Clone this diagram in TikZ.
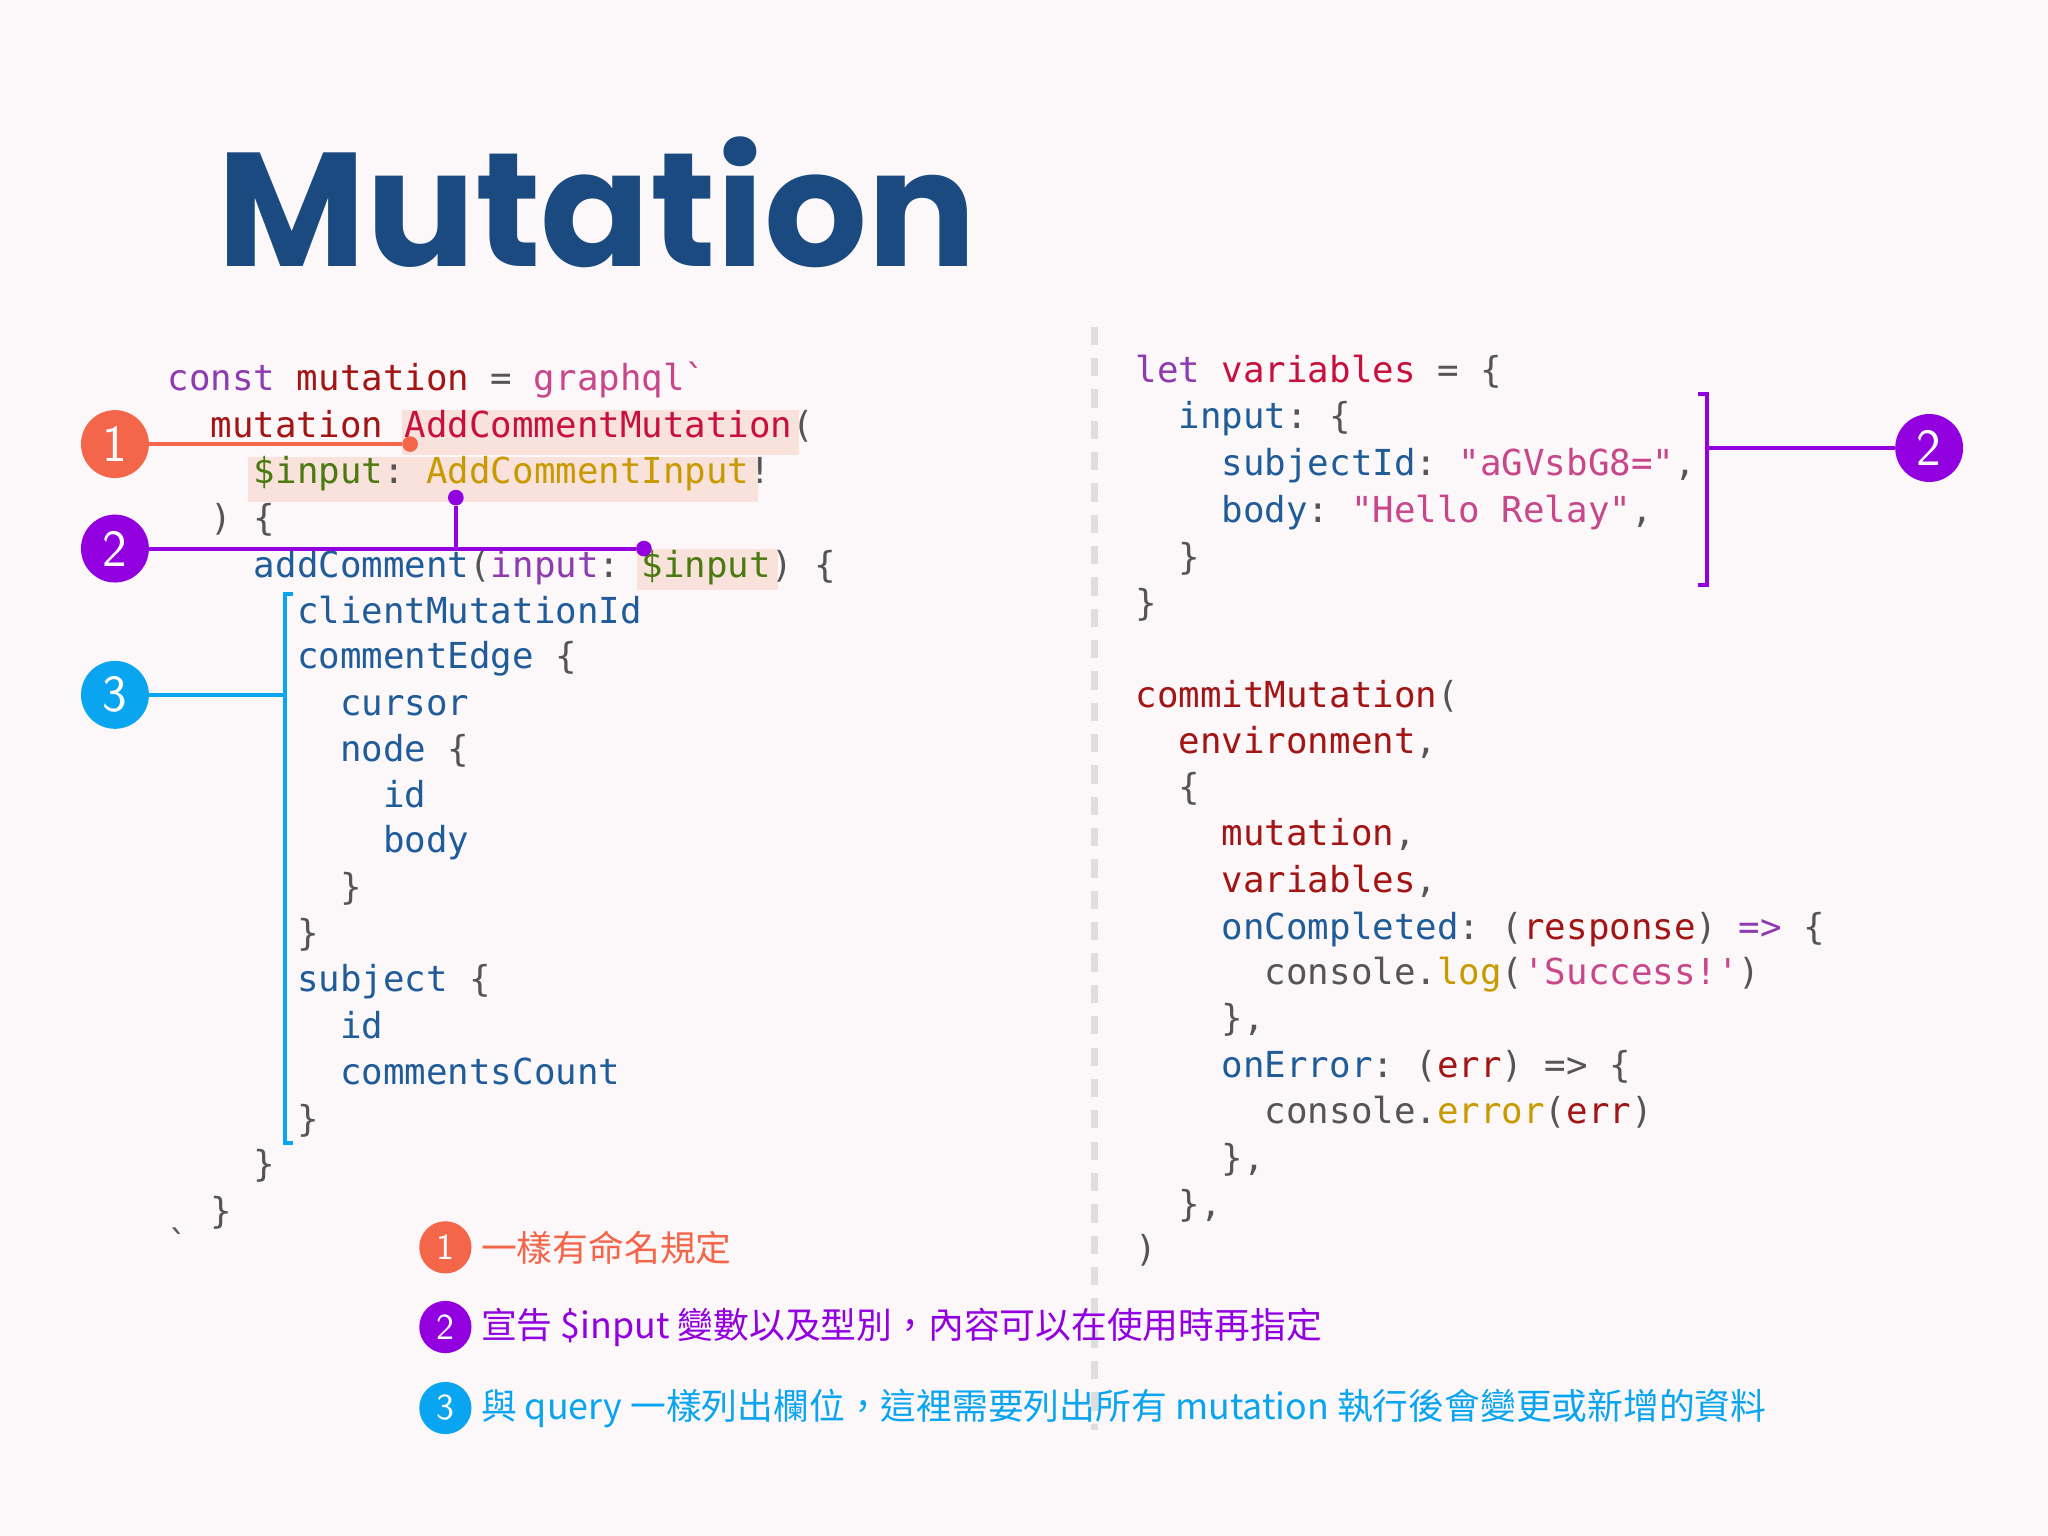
\documentclass[tikz,border=0pt]{standalone}
\usepackage{fontspec}
\setmonofont{DejaVu Sans Mono}
\newfontfamily\titlefont{Poppins}
\newfontfamily\cjk{Noto Sans CJK TC}
\definecolor{bg}{HTML}{FCF7F9}
\definecolor{kw}{HTML}{8E3AB0}
\definecolor{dr}{HTML}{A31515}
\definecolor{cr}{HTML}{C8103F}
\definecolor{gy}{HTML}{555555}
\definecolor{pk}{HTML}{C8478A}
\definecolor{gr}{HTML}{4A7A10}
\definecolor{gd}{HTML}{C99A00}
\definecolor{bl}{HTML}{1F5C99}
\definecolor{hl}{HTML}{F9E1DC}
\definecolor{c1}{HTML}{F4664A}
\definecolor{c2}{HTML}{9300E0}
\definecolor{c3}{HTML}{0AA5F0}
\definecolor{tb}{HTML}{1A4A80}
\newcommand\K[2]{\textcolor{#1}{#2}}
\newcommand\bq{\symbol{96}}
\newcommand\sq{\symbol{39}}
\newcommand\dq{\symbol{34}}
\newcommand\cl[3]{\node[code] (L#2) at ({#1*16.5+128},#2) {#3};}
\newcommand\rl[3]{\node[code] (R#2) at ({#1*16.5+869},#2) {#3};}
\begin{document}
\begin{tikzpicture}[x=0.5pt,y=-0.5pt,
  code/.style={anchor=west,inner sep=0,text height=10pt,text depth=3pt,font=\ttfamily\fontsize{13.7}{16}\selectfont,text=gy},
  big/.style={circle,fill=#1,minimum size=26pt,inner sep=0,text=white,font=\sffamily\fontsize{20}{20}\selectfont},
  small/.style={circle,fill=#1,minimum size=20pt,inner sep=0,text=white,font=\sffamily\fontsize{14}{14}\selectfont},
  dot/.style={circle,fill=#1,inner sep=0,minimum size=6pt},
  leg/.style={anchor=west,inner sep=0,text=#1,font=\cjk\fontsize{13.7}{16}\selectfont}]
\fill[bg] (0,0) rectangle (1568,1176);
\useasboundingbox (0,0) rectangle (1568,1176);
\node[anchor=base west,inner sep=0,text=tb,font=\titlefont\bfseries\fontsize{62}{62}\selectfont] (title) at (166,204) {Mutation};
% highlights
\fill[hl] (308,314) rectangle (612,348);
\fill[hl] (190,350) rectangle (580,384);
\fill[hl] (488,420) rectangle (596,452);
% divider
\draw[black!13,line width=3pt,dash pattern=on 7pt off 5pt] (838,250) -- (838,1095);
% left code
\cl{0}{292}{\K{kw}{const} \K{dr}{mutation} = \K{pk}{graphql\bq}}
\cl{2}{328}{\K{dr}{mutation} \K{cr}{AddCommentMutation}(}
\cl{4}{363}{\K{gr}{\$input}: \K{gd}{AddCommentInput}!}
\cl{2}{399}{) \{}
\cl{4}{435}{\K{bl}{addComment}(\K{kw}{input}: \K{gr}{\$input}) \{}
\cl{6}{470}{\K{bl}{clientMutationId}}
\cl{6}{505}{\K{bl}{commentEdge} \{}
\cl{8}{541}{\K{bl}{cursor}}
\cl{8}{576}{\K{bl}{node} \{}
\cl{10}{611}{\K{bl}{id}}
\cl{10}{646}{\K{bl}{body}}
\cl{8}{682}{\}}
\cl{6}{717}{\}}
\cl{6}{752}{\K{bl}{subject} \{}
\cl{8}{788}{\K{bl}{id}}
\cl{8}{823}{\K{bl}{commentsCount}}
\cl{6}{859}{\}}
\cl{4}{894}{\}}
\cl{2}{930}{\}}
\cl{0}{955}{\bq}
% right code
\rl{0}{286}{\K{kw}{let} \K{cr}{variables} = \{}
\rl{2}{321}{\K{bl}{input}: \{}
\rl{4}{357}{\K{bl}{subjectId}: \K{pk}{\dq aGVsbG8=\dq},}
\rl{4}{393}{\K{bl}{body}: \K{pk}{\dq Hello Relay\dq},}
\rl{2}{429}{\}}
\rl{0}{464}{\}}
\rl{0}{535}{\K{dr}{commitMutation}(}
\rl{2}{570}{\K{dr}{environment},}
\rl{2}{605}{\{}
\rl{4}{640}{\K{dr}{mutation},}
\rl{4}{676}{\K{dr}{variables},}
\rl{4}{712}{\K{bl}{onCompleted}: (\K{dr}{response}) \K{kw}{=>} \{}
\rl{6}{747}{console.\K{gd}{log}(\K{pk}{\sq Success!\sq})}
\rl{4}{782}{\},}
\rl{4}{818}{\K{bl}{onError}: (\K{dr}{err}) => \{}
\rl{6}{853}{console.\K{gd}{error}(\K{dr}{err})}
\rl{4}{889}{\},}
\rl{2}{924}{\},}
\rl{0}{959}{)}
% callout 1
\node[big=c1] (n1) at (88,340) {1};
\node[dot=c1] (d1) at (314,340) {};
\draw[c1,line width=1.5pt] (n1) -- (d1);
% callout 2
\node[big=c2] (n2) at (88,420) {2};
\node[dot=c2] (d2) at (493,420) {};
\node[dot=c2] (d2b) at (349,381) {};
\coordinate (j2) at (349,420);
\draw[c2,line width=1.5pt] (n2) -- (d2);
\draw[c2,line width=1.5pt] (d2b) -- (j2);
% callout 3
\node[big=c3] (n3) at (88,532) {3};
\coordinate (b3) at (218,532);
\draw[c3,line width=1.5pt] (n3) -- (b3);
\draw[c3,line width=1.5pt] (224,455) -- (218,455) -- (218,875) -- (224,875);
% right callout 2
\node[big=c2] (n2r) at (1477,343) {2};
\coordinate (b2r) at (1307,343);
\draw[c2,line width=1.5pt] (b2r) -- (n2r);
\draw[c2,line width=1.5pt] (1300,302) -- (1307,302) -- (1307,448) -- (1300,448);
% legend
\node[small=c1] (s1) at (341,955) {1};
\node[small=c2] (s2) at (341,1016) {2};
\node[small=c3] (s3) at (341,1078) {3};
\node[leg=c1] (t1) at (368,955) {一樣有命名規定};
\node[leg=c2] (t2) at (368,1016) {宣告 \$input 變數以及型別，內容可以在使用時再指定};
\node[leg=c3] (t3) at (368,1078) {與 query 一樣列出欄位，這裡需要列出所有 mutation 執行後會變更或新增的資料};
\end{tikzpicture}
\end{document}
